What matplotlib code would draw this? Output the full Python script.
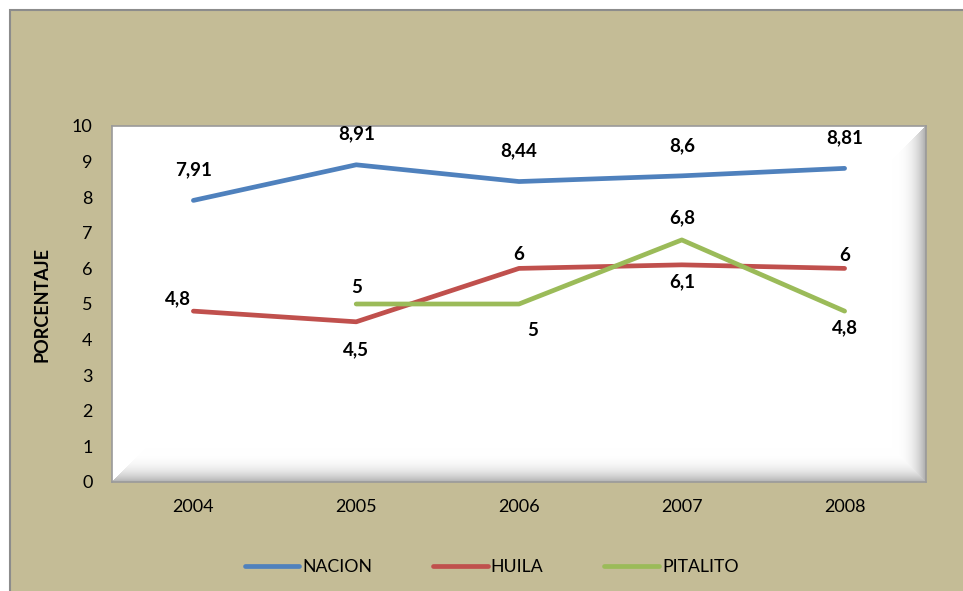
import numpy as np
import matplotlib.pyplot as plt
from matplotlib.patches import Rectangle

plt.rcParams['font.family'] = ['Lato', 'DejaVu Sans']

# porcentajes por año
anios = ['2004', '2005', '2006', '2007', '2008']
nacion = [7.91, 8.91, 8.44, 8.6, 8.81]
huila = [4.8, 4.5, 6, 6.1, 6]
pitalito = [np.nan, 5, 5, 6.8, 4.8]

# desplazamiento de cada etiqueta (puntos) respecto al dato
off_nacion = [(0, 22), (0, 22), (0, 22), (0, 22), (0, 22)]
off_huila = [(-11, 9), (0, -20), (0, 10), (0, -12), (0, 9)]
off_pitalito = [None, (0, 12), (10, -19), (0, 16), (0, -12)]

FONDO = '#C4BC96'
AZUL, ROJO, VERDE = '#4F81BD', '#C0504D', '#9BBB59'

fig = plt.figure(figsize=(9.63, 5.91), dpi=100, facecolor='white')
W, H = 963, 591
fig.patches.append(Rectangle((10 / W, -0.01), 1.02, 1 - 10 / H + 0.01,
                             transform=fig.transFigure, facecolor=FONDO,
                             edgecolor='#8C8C8C', linewidth=1.5, zorder=-10))

ax = fig.add_axes([112 / W, 1 - 482 / H, (926 - 112) / W, (482 - 126) / H])
ax.set_facecolor('white')

# efecto biselado del área de trazado (abajo y a la derecha)
pw, ph = 814, 356
xx, yy = np.meshgrid(np.arange(pw), np.arange(ph))
d_der = pw - 1 - xx
d_inf = ph - 1 - yy
b = 34.0
sombra = np.zeros((ph, pw))
inf = (d_inf < b) & (d_inf <= xx) & (d_inf <= d_der)
der = (d_der < b) & (d_der <= yy) & (d_der < d_inf)
sombra[inf] = 0.30 * (1 - d_inf[inf] / b) ** 3
sombra[der] = 0.32 * (1 - d_der[der] / b) ** 3
img = np.ones((ph, pw, 4))
img[..., :3] = 1 - sombra[..., None]
ax.imshow(img, extent=[-0.5, 4.5, 0, 10], aspect='auto', zorder=0,
          interpolation='bilinear')

x = np.arange(len(anios))
series = [(nacion, AZUL, 'NACION', off_nacion),
          (huila, ROJO, 'HUILA', off_huila),
          (pitalito, VERDE, 'PITALITO', off_pitalito)]
for vals, color, nombre, offs in series:
    ax.plot(x, vals, color=color, lw=3.4, solid_capstyle='round',
            solid_joinstyle='round', label=nombre, zorder=3)
    for xi, v, off in zip(x, vals, offs):
        if off is None or np.isnan(v):
            continue
        ax.annotate(f'{v:g}'.replace('.', ','), (xi, v), xytext=off,
                    textcoords='offset points', ha='center', va='center',
                    fontsize=13.5, fontweight='bold', zorder=4)

ax.set_xlim(-0.5, 4.5)
ax.set_ylim(0, 10)
ax.set_yticks(range(0, 11))
ax.set_xticks(x)
ax.set_xticklabels(anios)
ax.tick_params(length=0, labelsize=13, colors='black')
ax.tick_params(axis='x', pad=12)
ax.tick_params(axis='y', pad=14)
for s in ax.spines.values():
    s.set_color('#9A9A9A')
    s.set_linewidth(1.2)
ax.set_ylabel('PORCENTAJE', fontsize=13, fontweight='bold')
ax.yaxis.set_label_coords(-0.075, 0.5)

fig.legend(loc='center', bbox_to_anchor=(0.5105, 1 - 567 / H), ncol=3,
           frameon=False, fontsize=12.7, handlelength=3.1, handletextpad=0.17,
           columnspacing=3.45)

fig.savefig('out.png', dpi=100, facecolor=fig.get_facecolor())
